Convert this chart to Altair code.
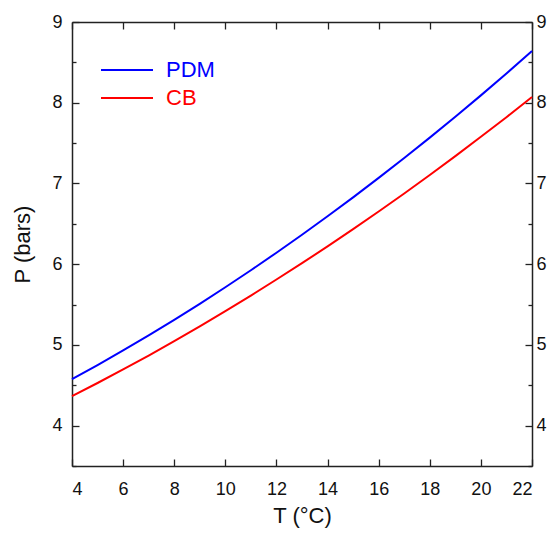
import altair as alt
import pandas as pd

temps = list(range(4, 23))
pdm = [4.575, 4.750, 4.931, 5.117, 5.310, 5.509, 5.714, 5.925, 6.142, 6.364,
       6.593, 6.828, 7.069, 7.315, 7.568, 7.827, 8.091, 8.362, 8.640]
cb = [4.365, 4.528, 4.696, 4.868, 5.047, 5.230, 5.418, 5.611, 5.810, 6.012,
      6.221, 6.434, 6.653, 6.876, 7.105, 7.339, 7.578, 7.821, 8.070]
series = ["PDM", "CB"]
colors = ["#0000ff", "#ff0000"]
x_ticks = list(range(4, 23, 2))
y_ticks = [3.5 + 0.5 * i for i in range(12)]

df = pd.DataFrame({
    "T": temps * 2,
    "P": pdm + cb,
    "model": [series[0]] * len(temps) + [series[1]] * len(temps),
})

FONT = "Liberation Sans"
xscale = alt.Scale(domain=[4, 22], nice=False, zero=False)
yscale = alt.Scale(domain=[3.5, 9], nice=False, zero=False)

ytick_size = {"condition": {"test": "datum.value % 1 === 0", "value": -7}, "value": -4}
ylabel_expr = "datum.value % 1 === 0 && datum.value > 3.6 ? format(datum.value, 'd') : ''"

common_axis = dict(domainColor="#222222", domainWidth=1.5, tickColor="#222222",
                   tickWidth=1.3, labelFont=FONT, labelFontSize=18, labelColor="#111111",
                   titleFont=FONT, titleFontSize=22, titleFontWeight="normal",
                   titleColor="#111111", grid=False)

lines = alt.Chart(df).mark_line(strokeWidth=2).encode(
    x=alt.X("T:Q", scale=xscale,
            axis=alt.Axis(orient="bottom", values=x_ticks, title="T (°C)", format="d",
                          tickSize={"expr": "-7"}, labelPadding=21, titlePadding=7,
                          **common_axis)),
    y=alt.Y("P:Q", scale=yscale,
            axis=alt.Axis(orient="left", values=y_ticks, labelExpr=ylabel_expr,
                          title="P (bars)", tickSize=ytick_size, labelPadding=17,
                          titlePadding=17, **common_axis)),
    color=alt.Color("model:N", sort=series,
                    scale=alt.Scale(domain=series, range=colors),
                    legend=alt.Legend(orient="none", legendX=44, legendY=37, title=None,
                                      symbolType="M-2.6,0H2.6", symbolSize=400,
                                      symbolStrokeWidth=2, labelOffset=28,
                                      labelFont=FONT, labelFontSize=22,
                                      labelColor={"expr": "datum.label === 'PDM' ? '#0000ff' : '#ff0000'"},
                                      rowPadding=6, padding=0)),
)

frame = alt.Chart(df).mark_line(opacity=0).encode(
    x=alt.X("T:Q", scale=xscale,
            axis=alt.Axis(orient="top", values=x_ticks, labels=False, title=None,
                          tickSize={"expr": "-7"}, **common_axis)),
    y=alt.Y("P:Q", scale=yscale,
            axis=alt.Axis(orient="right", values=y_ticks, labelExpr=ylabel_expr,
                          title=None, tickSize=ytick_size, labelPadding=11,
                          **common_axis)),
    detail="model:N",
)

chart = alt.layer(lines, frame).resolve_axis(x="independent", y="independent").properties(
    width=460, height=444,
    autosize=alt.AutoSizeParams(type="none"),
    padding={"left": 64, "top": 14, "right": 15, "bottom": 63},
    background="white",
).configure_view(stroke=None)

chart.save("out.html", embed_options={"renderer": "svg", "actions": False})
